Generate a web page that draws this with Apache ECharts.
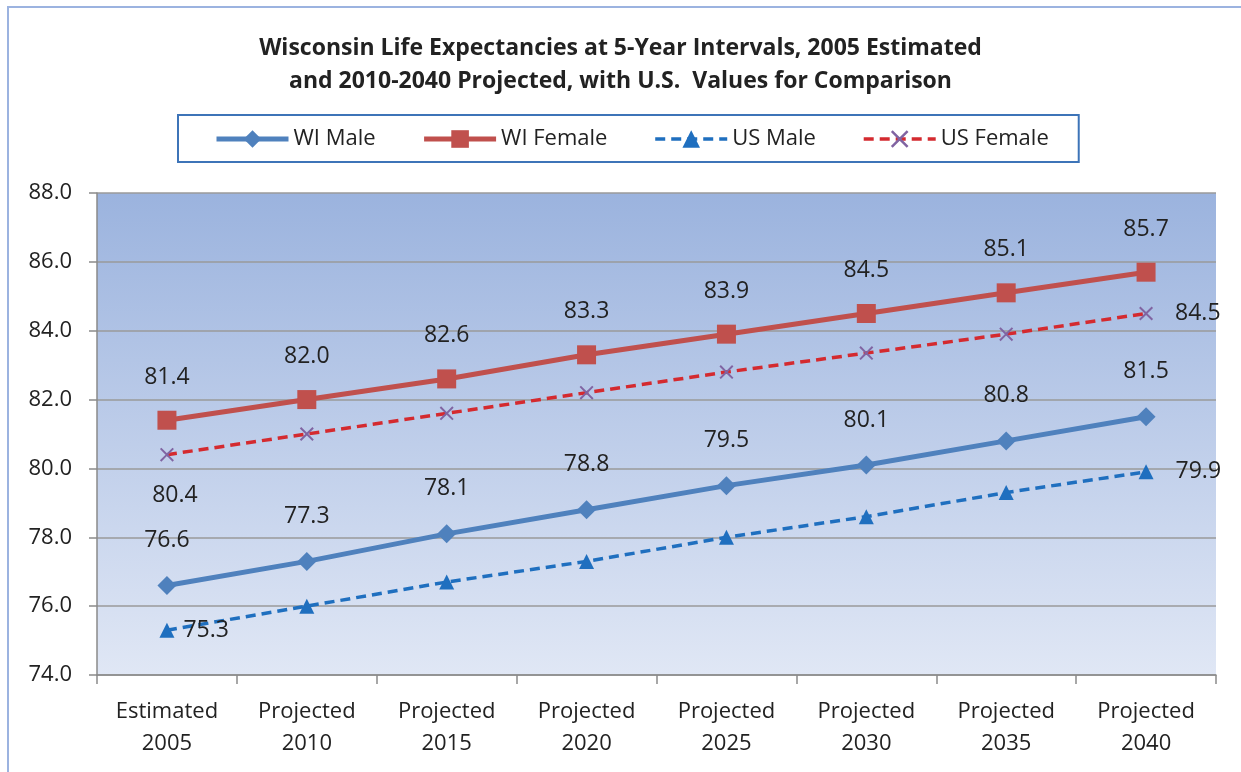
<!DOCTYPE html>
<html>
<head>
<meta charset="utf-8" />
<title>Wisconsin Life Expectancies</title>
<script src="https://cdn.jsdelivr.net/npm/echarts@6/dist/echarts.min.js"></script>
<style>
  html, body { margin: 0; padding: 0; background: #fff; }
  #main { width: 1241px; height: 772px; }
</style>
</head>
<body>
<div id="main"></div>
<script>
// categories along the x axis
var years = ['Estimated\n2005', 'Projected\n2010', 'Projected\n2015', 'Projected\n2020',
             'Projected\n2025', 'Projected\n2030', 'Projected\n2035', 'Projected\n2040'];

// series values
var wiMale   = [76.6, 77.3, 78.1, 78.8, 79.5, 80.1, 80.8, 81.5];
var wiFemale = [81.4, 82.0, 82.6, 83.3, 83.9, 84.5, 85.1, 85.7];
var usMale   = [75.3, 76.0, 76.7, 77.3, 78.0, 78.6, 79.3, 79.9];
var usFemale = [80.4, 81.0, 81.6, 82.2, 82.8, 83.35, 83.9, 84.5];

var FONT = 'Open Sans';
var xMark = 'path://M0,1L1,0L5,4L9,0L10,1L6,5L10,9L9,10L5,6L1,10L0,9L4,5Z';

var chart = echarts.init(document.getElementById('main'));

// only first and last points of the US lines carry labels
function edgeLabels(vals, first, last) {
  return vals.map(function (v, i) {
    if (i === 0) return { value: v, label: first };
    if (i === vals.length - 1) return { value: v, label: last };
    return v;
  });
}

var labelText = { color: '#222', fontSize: 23, fontFamily: FONT };

chart.setOption({
  animation: false,
  title: {
    text: 'Wisconsin Life Expectancies at 5-Year Intervals, 2005 Estimated\nand 2010-2040 Projected, with U.S.  Values for Comparison',
    left: 'center',
    top: 27,
    textStyle: { fontFamily: FONT, fontSize: 23, fontWeight: 'bold', color: '#222', lineHeight: 33 }
  },
  graphic: [{
    type: 'rect',
    shape: { x: 8, y: 7, width: 1260, height: 800 },
    style: { fill: 'none', stroke: '#9cb3e0', lineWidth: 2 },
    silent: true
  }],
  legend: {
    top: 115,
    left: 178,
    padding: [13, 30, 12, 36],
    borderColor: '#3d74b8',
    borderWidth: 2,
    itemWidth: 72,
    itemHeight: 22,
    itemGap: 46,
    textStyle: { fontFamily: FONT, fontSize: 22, color: '#222' },
    data: [
      { name: 'WI Male', lineStyle: { width: 5 } },
      { name: 'WI Female', lineStyle: { width: 5 } },
      { name: 'US Male', lineStyle: { width: 3.5 } },
      { name: 'US Female', lineStyle: { width: 3.5 } }
    ]
  },
  grid: {
    left: 97, right: 25, top: 193, bottom: 97,
    show: true,
    borderWidth: 0,
    backgroundColor: new echarts.graphic.LinearGradient(0, 0, 0, 1, [
      { offset: 0, color: '#9bb3de' },
      { offset: 1, color: '#e0e7f5' }
    ])
  },
  xAxis: {
    type: 'category',
    data: years,
    boundaryGap: true,
    axisLine: { lineStyle: { color: '#8a8a8a', width: 1.5 } },
    axisTick: { show: true, length: 9, lineStyle: { color: '#8a8a8a', width: 1.5 } },
    axisLabel: { color: '#222', fontFamily: FONT, fontSize: 22, lineHeight: 32, margin: 21 }
  },
  yAxis: {
    type: 'value',
    min: 74, max: 88, interval: 2,
    axisLine: { show: true, lineStyle: { color: '#8a8a8a', width: 1.5 } },
    axisTick: { show: true, length: 8, lineStyle: { color: '#8a8a8a', width: 1.5 } },
    splitLine: { lineStyle: { color: '#9a9a9a', width: 1.5 } },
    axisLabel: {
      color: '#222', fontFamily: FONT, fontSize: 22, margin: 25,
      formatter: function (v) { return v.toFixed(1); }
    }
  },
  series: [
    {
      name: 'WI Male', type: 'line', data: wiMale,
      symbol: 'diamond', symbolSize: 19,
      lineStyle: { color: '#4f81bd', width: 5 },
      itemStyle: { color: '#4f81bd' },
      label: Object.assign({ show: true, position: 'top', distance: 24,
        formatter: function (p) { return p.value.toFixed(1); } }, labelText),
      z: 3
    },
    {
      name: 'WI Female', type: 'line', data: wiFemale,
      symbol: 'rect', symbolSize: 19,
      lineStyle: { color: '#c0504d', width: 5 },
      itemStyle: { color: '#c0504d' },
      label: Object.assign({ show: true, position: 'top', distance: 22,
        formatter: function (p) { return p.value.toFixed(1); } }, labelText),
      z: 3
    },
    {
      name: 'US Male', type: 'line',
      data: edgeLabels(usMale,
        Object.assign({ show: true, position: 'right', distance: 9 }, labelText),
        Object.assign({ show: true, position: 'right', distance: 22 }, labelText)),
      symbol: 'triangle', symbolSize: 15,
      lineStyle: { color: '#1f6fbf', width: 3.5, type: [10, 6] },
      itemStyle: { color: '#1f6fbf' },
      label: { show: false, formatter: function (p) { return p.value.toFixed(1); } },
      z: 2
    },
    {
      name: 'US Female', type: 'line',
      data: edgeLabels(usFemale,
        Object.assign({ show: true, position: 'bottom', distance: 22, offset: [8, 0] }, labelText),
        Object.assign({ show: true, position: 'right', distance: 22 }, labelText)),
      symbol: xMark, symbolSize: 14,
      lineStyle: { color: '#d42a2f', width: 3.5, type: [10, 6] },
      itemStyle: { color: '#8064a2' },
      label: { show: false, formatter: function (p) { return p.value.toFixed(1); } },
      z: 2
    }
  ]
});

window.onresize = function () { chart.resize(); };
</script>
</body>
</html>
